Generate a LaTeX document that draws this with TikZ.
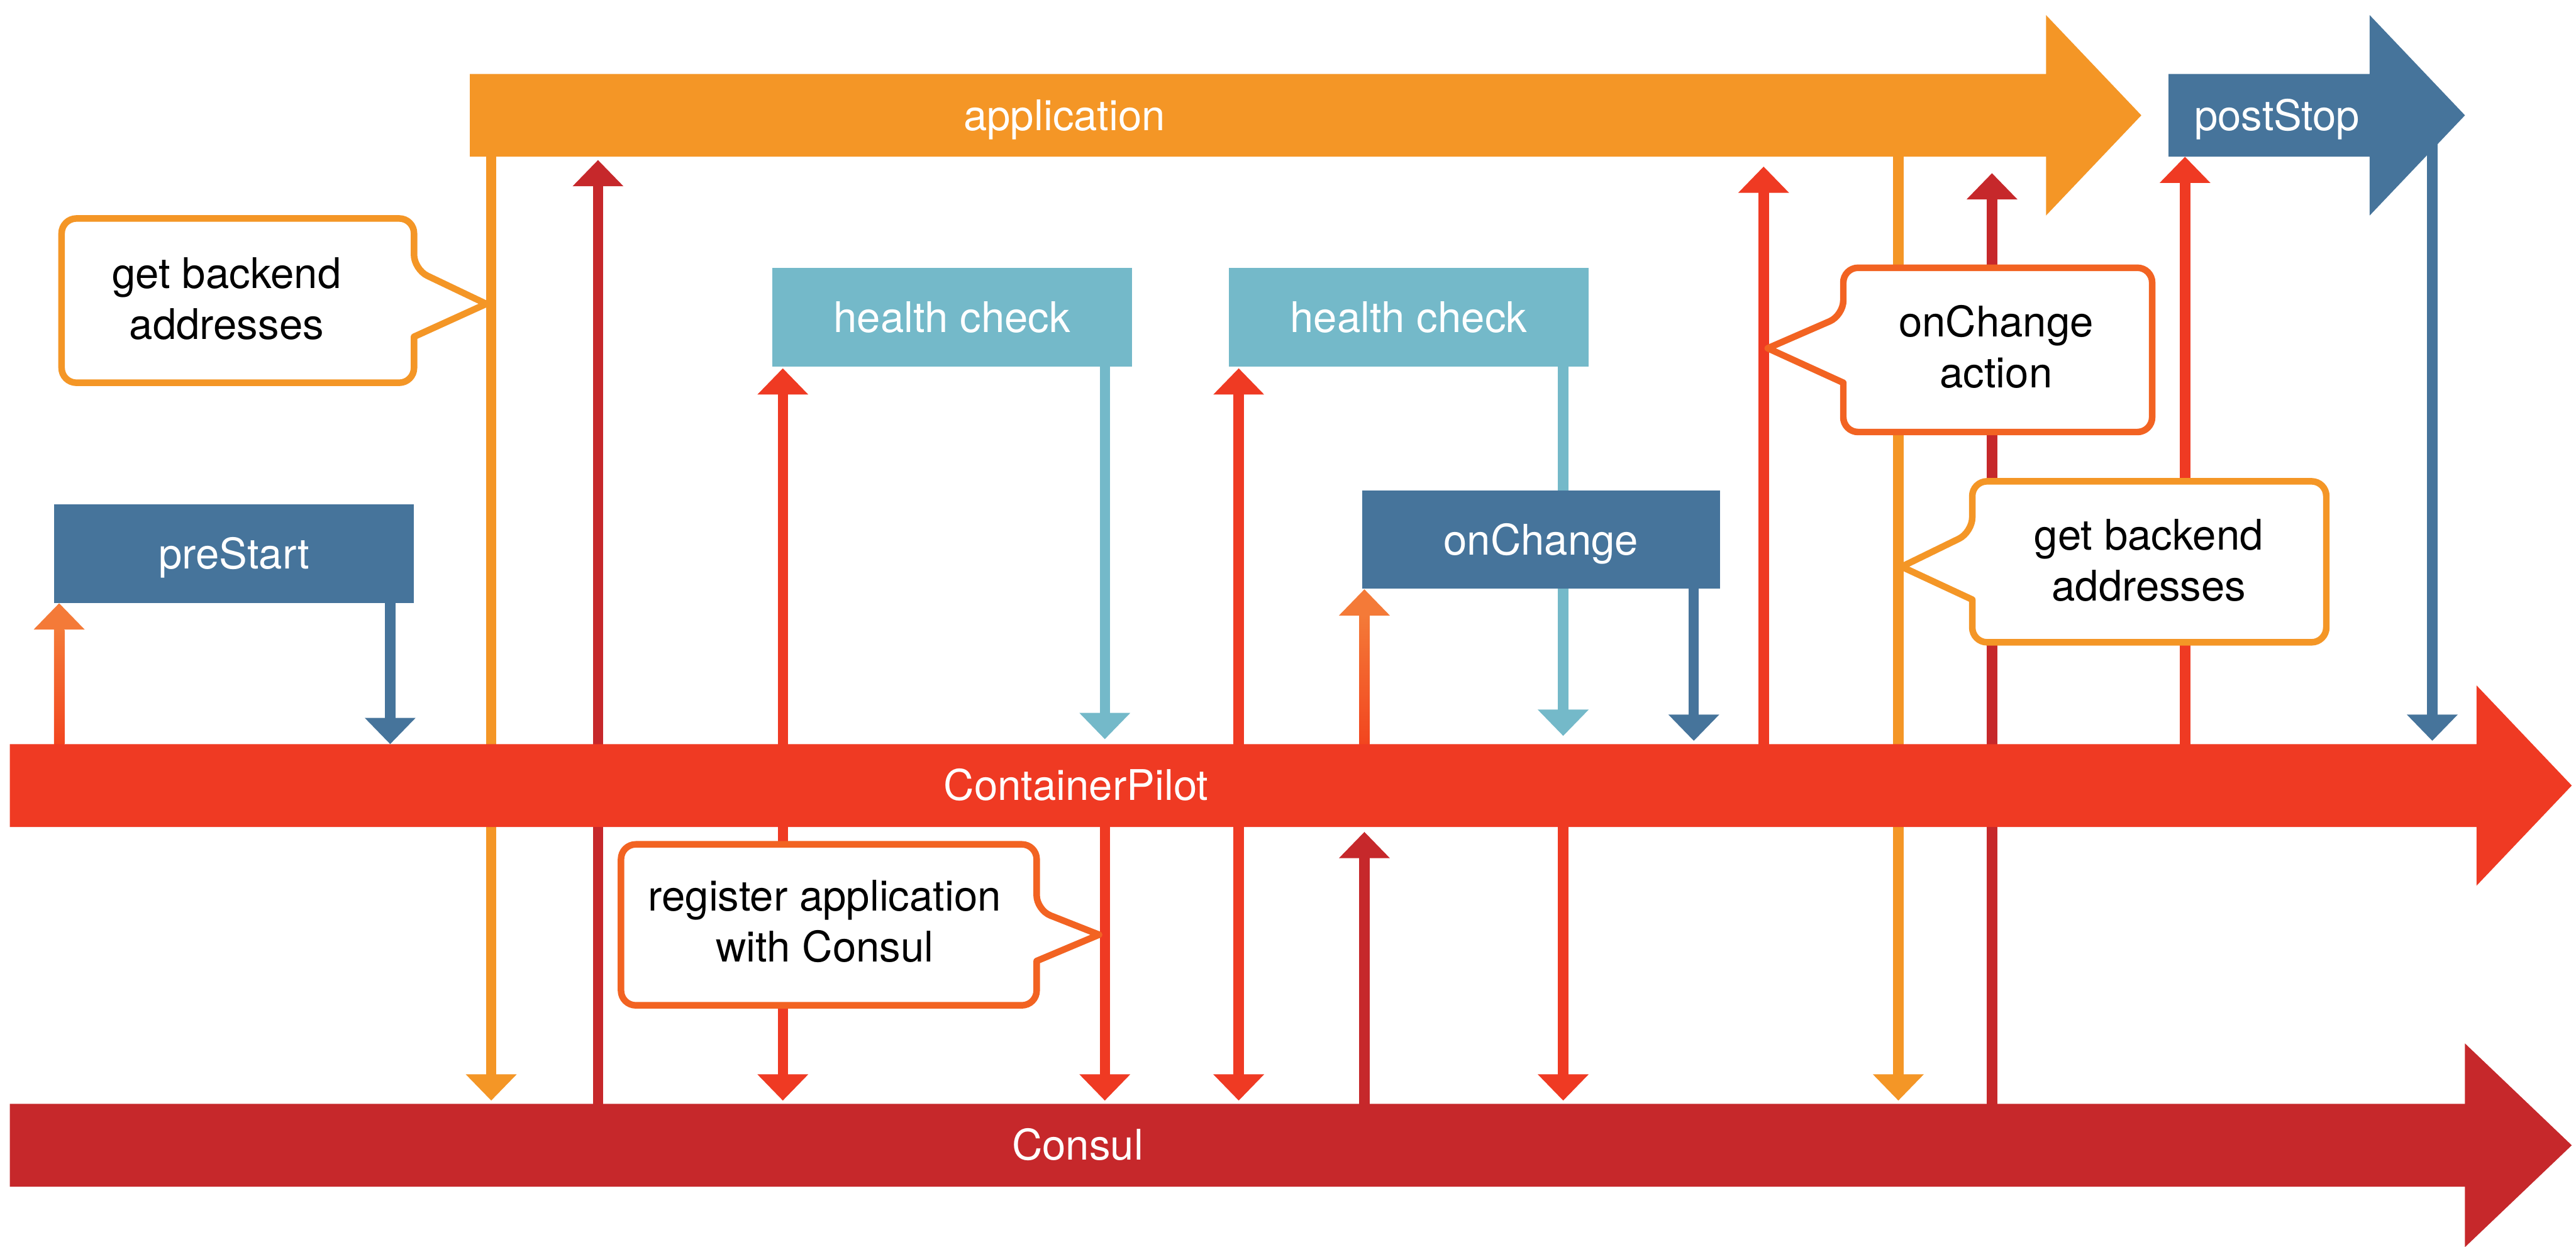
\documentclass[tikz,border=0pt]{standalone}
\usepackage{fontspec}
\setmainfont{TeX Gyre Heros}
\usetikzlibrary{arrows.meta,calc}

\definecolor{apporange}{HTML}{F49626}
\definecolor{cpred}{HTML}{EF3A23}
\definecolor{consulred}{HTML}{C6282B}
\definecolor{hookblue}{HTML}{46749B}
\definecolor{checkblue}{HTML}{74B9C9}
\definecolor{calloutred}{HTML}{F26322}
\definecolor{warmtop}{HTML}{F47A38}
\definecolor{warmbottom}{HTML}{F2451F}

\pgfdeclarelayer{paper}
\pgfdeclarelayer{lines}
\pgfsetlayers{paper,lines,main}

\tikzset{
  labelfont/.style={font={\fontsize{25.7}{31}\selectfont}},
  lbl/.style={labelfont, text=white, inner sep=0pt, text height=18.5pt, text depth=0pt},
  band/.style={rectangle, minimum height=50pt, inner sep=0pt},
  hookbox/.style={rectangle, fill=#1, minimum width=219pt, minimum height=60pt,
    inner sep=0pt, text=white, labelfont, text height=18.5pt, text depth=0pt},
  flow/.style={line width=6.3pt, draw=#1},
  onehead/.style={-{Triangle[width=30pt,length=16pt]}},
  twoheads/.style={{Triangle[width=30pt,length=16pt]}-{Triangle[width=30pt,length=16pt]}},
  bubble/.style={draw=#1, line width=4pt, fill=white, line join=round},
  calltext/.style={labelfont, align=center, inner sep=0pt, text=black},
}

\begin{document}
\begin{tikzpicture}[x=1pt,y=-1pt]
\begin{pgfonlayer}{paper}
  \fill[white] (0,0) rectangle (1568,759);
\end{pgfonlayer}
\useasboundingbox (0,0) rectangle (1568,759);

% ---- timelines (wide arrows) ----
\node[band, minimum width=959pt, anchor=north west] (app) at (286,45) {};
\fill[apporange] (app.north west) -- (app.north east) -- ($(app.east)+(0,-61)$)
  -- ($(app.east)+(58,0)$) -- ($(app.east)+(0,61)$) -- (app.south east) -- (app.south west) -- cycle;

\node[band, minimum width=122pt, anchor=north west] (post) at (1320,45) {};
\fill[hookblue] (post.north west) -- (post.north east) -- ($(post.east)+(0,-61)$)
  -- ($(post.east)+(58,0)$) -- ($(post.east)+(0,61)$) -- (post.south east) -- (post.south west) -- cycle;

\node[band, minimum width=1501pt, anchor=north west] (cp) at (6,453) {};
\fill[cpred] (cp.north west) -- (cp.north east) -- ($(cp.east)+(0,-61)$)
  -- ($(cp.east)+(58,0)$) -- ($(cp.east)+(0,61)$) -- (cp.south east) -- (cp.south west) -- cycle;

\node[band, minimum width=1494pt, anchor=north west] (consul) at (6,672) {};
\fill[consulred] (consul.north west) -- (consul.north east) -- ($(consul.east)+(0,-62)$)
  -- ($(consul.east)+(65,0)$) -- ($(consul.east)+(0,62)$) -- (consul.south east) -- (consul.south west) -- cycle;

\node[lbl] (applbl) at (648,70) {application};
\node[lbl] (postlbl) at (1386,70) {postStop};
\node[lbl] (cplbl) at (655,478) {ContainerPilot};
\node[lbl] (consullbl) at (656,697) {Consul};

% ---- hooks and checks ----
\node[hookbox=hookblue] (prestart) at (142.5,337) {preStart};
\node[hookbox=checkblue] (hc1) at (579.5,193) {health check};
\node[hookbox=checkblue] (hc2) at (857.5,193) {health check};
\node[hookbox=hookblue, minimum width=218pt] (onchange) at (938,328.5) {onChange};

% ---- x positions of the vertical connectors ----
\coordinate (c1) at (36,0);
\coordinate (c2) at (237.5,0);
\coordinate (c3) at (299,0);
\coordinate (c4) at (364,0);
\coordinate (c5) at (476.5,0);
\coordinate (c6) at (672.5,0);
\coordinate (c7) at (754,0);
\coordinate (c8) at (830.5,0);
\coordinate (c9) at (951.5,0);
\coordinate (c10) at (1031,0);
\coordinate (c11) at (1073.5,0);
\coordinate (c12) at (1155.5,0);
\coordinate (c13) at (1212.5,0);
\coordinate (c14) at (1330,0);
\coordinate (c15) at (1480.5,0);

\begin{pgfonlayer}{lines}
  % preStart
  \draw[flow=warmtop, onehead] (c1 |- cp.center) -- (c1 |- prestart.south);
  \shade[bottom color=warmbottom, top color=warmtop]
    ($(c1 |- cp.north)+(-3.15,0)$) rectangle ($(c1 |- prestart.south)+(3.15,16)$);
  \draw[flow=hookblue, onehead] (c2 |- prestart.center) -- (c2 |- cp.north);
  % application <-> Consul
  \draw[flow=apporange, onehead] (c3 |- app.center) -- ($(c3 |- consul.north)+(0,-2)$);
  \draw[flow=consulred, onehead] (c4 |- consul.center) -- ($(c4 |- app.south)+(0,2)$);
  % first health check
  \draw[flow=cpred, twoheads] ($(c5 |- hc1.south)+(0,1)$) -- ($(c5 |- consul.north)+(0,-2)$);
  \draw[flow=checkblue, onehead] (c6 |- hc1.center) -- ($(c6 |- cp.north)+(0,-3)$);
  \draw[flow=cpred, onehead] (c6 |- cp.center) -- ($(c6 |- consul.north)+(0,-2)$);
  % second health check
  \draw[flow=cpred, twoheads] ($(c7 |- hc2.south)+(0,1)$) -- ($(c7 |- consul.north)+(0,-2)$);
  \draw[flow=warmtop, onehead] (c8 |- cp.center) -- (c8 |- onchange.south);
  \shade[bottom color=warmbottom, top color=warmtop]
    ($(c8 |- cp.north)+(-3.15,0)$) rectangle ($(c8 |- onchange.south)+(3.15,16)$);
  \draw[flow=consulred, onehead] (c8 |- consul.center) -- ($(c8 |- cp.south)+(0,3)$);
  \draw[flow=checkblue, onehead] (c9 |- hc2.center) -- ($(c9 |- cp.north)+(0,-5)$);
  \draw[flow=cpred, onehead] (c9 |- cp.center) -- ($(c9 |- consul.north)+(0,-2)$);
  \draw[flow=hookblue, onehead] (c10 |- onchange.center) -- ($(c10 |- cp.north)+(0,-2)$);
  % onChange action and backends
  \draw[flow=cpred, onehead] (c11 |- cp.center) -- ($(c11 |- app.south)+(0,6)$);
  \draw[flow=apporange, onehead] (c12 |- app.center) -- ($(c12 |- consul.north)+(0,-2)$);
  \draw[flow=consulred, onehead] (c13 |- consul.center) -- ($(c13 |- app.south)+(0,10)$);
  % postStop
  \draw[flow=cpred, onehead] (c14 |- cp.center) -- (c14 |- post.south);
  \draw[flow=hookblue, onehead] (c15 |- post.center) -- ($(c15 |- cp.north)+(0,-2)$);
\end{pgfonlayer}

% ---- callouts ----
\draw[bubble=apporange] (150,233) [rounded corners=9pt] -- (37.5,233) -- (37.5,133) -- (252,133)
  -- (252,164) [sharp corners] -- (296,185) -- (252,205) [rounded corners=9pt] -- (252,233) -- cycle;
\node[calltext] (backendsA) at (138,182) {get backend\\addresses};

\draw[bubble=calloutred] (500,612) [rounded corners=9pt] -- (378,612) -- (378,514) -- (631,514)
  -- (631,554) [sharp corners] -- (669,569) -- (631,585) [rounded corners=9pt] -- (631,612) -- cycle;
\node[calltext] (register) at (502,561) {register application\\with Consul};

\draw[bubble=calloutred] (1216,263) [rounded corners=9pt] -- (1310,263) -- (1310,163) -- (1122,163)
  -- (1122,192) [sharp corners] -- (1076,212) -- (1122,233) [rounded corners=9pt] -- (1122,263) -- cycle;
\node[calltext] (action) at (1215,211) {onChange\\action};

\draw[bubble=apporange] (1308,391) [rounded corners=9pt] -- (1416,391) -- (1416,293) -- (1200.5,293)
  -- (1200.5,324) [sharp corners] -- (1157.5,345) -- (1200.5,365) [rounded corners=9pt] -- (1200.5,391) -- cycle;
\node[calltext] (backendsB) at (1308,341) {get backend\\addresses};
\end{tikzpicture}
\end{document}
